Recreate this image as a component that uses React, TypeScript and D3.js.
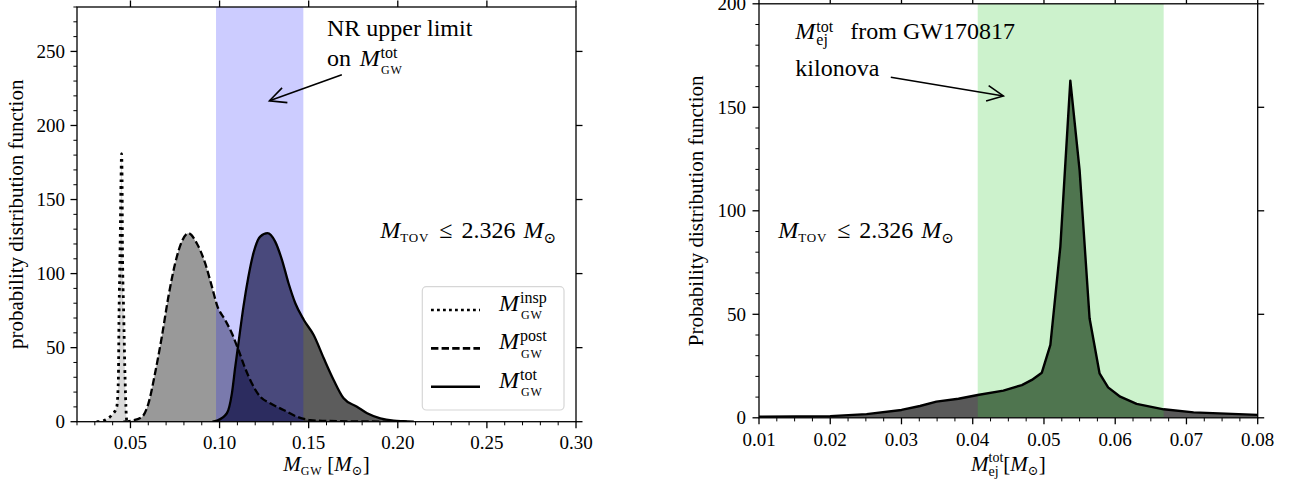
import React from 'react';
import * as d3 from 'd3';

// ---------- data ----------
const inspX = [0.031, 0.034, 0.0357, 0.0395, 0.0423, 0.0432, 0.0436, 0.0442, 0.0447, 0.0450, 0.0453, 0.0455, 0.0462, 0.0470, 0.0479, 0.0485];
const inspY = [0, 0.3, 1.1, 4.5, 10, 28, 73, 118, 163, 181, 163, 118, 73, 28, 1, 0];

const postX = [0.046, 0.0507, 0.0563, 0.0601, 0.0638, 0.0676, 0.0713, 0.0751, 0.0788, 0.0825, 0.0872, 0.0919, 0.0957, 0.0985, 0.1031, 0.1069, 0.1106, 0.1144, 0.1181, 0.1228, 0.1284, 0.1359, 0.1434, 0.1509, 0.1603, 0.18, 0.205];
const postY = [0, 0.7, 3, 12.4, 32.7, 57.4, 84.5, 107, 121.6, 127.3, 120.5, 107, 91.2, 78.9, 68.7, 59.7, 48.4, 36, 25.9, 16.9, 12.4, 7.9, 3.4, 1.1, 0.5, 0.2, 0];

const totX = [0.096, 0.0985, 0.1041, 0.1069, 0.1088, 0.1106, 0.1134, 0.1162, 0.119, 0.1228, 0.1269, 0.1312, 0.135, 0.1387, 0.1425, 0.1473, 0.1528, 0.1584, 0.164, 0.1696, 0.1771, 0.1828, 0.1902, 0.1977, 0.203, 0.209];
const totY = [0, 0.7, 5.7, 19, 37, 53, 77.7, 98, 113.8, 125, 127.3, 121.6, 109.3, 93.5, 80, 68.7, 58.5, 43, 28.2, 15.8, 10.1, 5.7, 2.3, 0.7, 0.3, 0];

const ejX = [0.010, 0.020, 0.0251, 0.030, 0.0326, 0.0349, 0.0380, 0.0407, 0.0443, 0.0469, 0.0483, 0.0497, 0.0509, 0.0523, 0.0537, 0.0550, 0.0564, 0.0578, 0.0590, 0.0607, 0.0630, 0.0668, 0.0710, 0.080];
const ejY = [0.5, 0.8, 1.8, 3.8, 5.7, 7.8, 9.2, 11.0, 13.1, 15.8, 18.3, 21.8, 35.2, 82.7, 162.9, 119.7, 48.1, 21.5, 14.7, 10.2, 6.7, 4.1, 2.6, 1.4];

const leftXTicks = [0.05, 0.10, 0.15, 0.20, 0.25, 0.30];
const leftXLabels = ['0.05', '0.10', '0.15', '0.20', '0.25', '0.30'];
const leftYTicks = [0, 50, 100, 150, 200, 250];
const rightXTicks = [0.01, 0.02, 0.03, 0.04, 0.05, 0.06, 0.07, 0.08];
const rightXLabels = ['0.01', '0.02', '0.03', '0.04', '0.05', '0.06', '0.07', '0.08'];
const rightYTicks = [0, 50, 100, 150, 200];

const nrBand = [0.098, 0.147];
const kiloBand = [0.0407, 0.0668];

const FONT = '"Liberation Serif", "DejaVu Serif", "Times New Roman", Times, serif';
const SYM = '"DejaVu Serif", "DejaVu Sans", serif';

function zip(xs: number[], ys: number[]) {
  return xs.map((x, i) => [x, ys[i]] as [number, number]);
}

function arrowHead(x1: number, y1: number, x2: number, y2: number, len = 18, ang = 0.45) {
  const a = Math.atan2(y1 - y2, x1 - x2);
  return `M${x2 + len * Math.cos(a + ang)},${y2 + len * Math.sin(a + ang)}L${x2},${y2}L${x2 + len * Math.cos(a - ang)},${y2 + len * Math.sin(a - ang)}`;
}

const T = (props: any) => <text {...props} style={{ fontFamily: FONT, ...(props.style || {}) }} />;

export default function App() {
  const L = { x0: 77, x1: 576, y0: 421.7, y1: 7 };
  const R = { x0: 759, x1: 1257.7, y0: 417.8, y1: 3.8 };
  const xL = d3.scaleLinear().domain([0.02, 0.30]).range([L.x0, L.x1]);
  const yL = d3.scaleLinear().domain([0, 280]).range([L.y0, L.y1]);
  const xR = d3.scaleLinear().domain([0.01, 0.08]).range([R.x0, R.x1]);
  const yR = d3.scaleLinear().domain([0, 200]).range([R.y0, R.y1]);

  const areaL = d3.area<[number, number]>().x(d => xL(d[0])).y0(yL(0)).y1(d => yL(d[1])).curve(d3.curveMonotoneX);
  const lineL = d3.line<[number, number]>().x(d => xL(d[0])).y(d => yL(d[1])).curve(d3.curveMonotoneX);
  const areaR = d3.area<[number, number]>().x(d => xR(d[0])).y0(yR(0)).y1(d => yR(d[1])).curve(d3.curveLinear);
  const lineR = d3.line<[number, number]>().x(d => xR(d[0])).y(d => yR(d[1])).curve(d3.curveLinear);

  const insp = zip(inspX, inspY);
  const post = zip(postX, postY);
  const tot = zip(totX, totY);
  const ej = zip(ejX, ejY);

  const minorLX = d3.range(0.02, 0.3001, 0.01).filter(v => Math.abs(v * 20 - Math.round(v * 20)) > 1e-6);
  const minorLY = d3.range(0, 281, 10).filter(v => v % 50 !== 0);
  const minorRX = d3.range(0.01, 0.08001, 0.0025).filter(v => Math.abs(v * 100 - Math.round(v * 100)) > 1e-6);
  const minorRY = d3.range(0, 201, 10).filter(v => v % 50 !== 0);

  const MAJ = 6.5, MIN = 3.6;
  const tickFs = 19;

  const nrTip = [xL(0.128), yL(216.7)];
  const nrStart = [xL(0.1686), yL(234.3)];
  const nrText = [xL(0.1603), yL(260.1)];
  const tovL = [xL(0.1902), yL(124)];
  const kTip = [xR(0.0443), yR(155.5)];
  const kStart = [xR(0.0285), yR(164.5)];
  const kText = [xR(0.0151), yR(165)];
  const ejText = [xR(0.0151), yR(182.9)];
  const tovR = [xR(0.0127), yR(86.8)];

  const TovLabel = ({ x, y }: { x: number; y: number }) => (
    <T x={x} y={y} fontSize={24}>
      <tspan fontStyle="italic">M</tspan>
      <tspan fontSize={13} dy={4} letterSpacing={0.8}>TOV</tspan>
      <tspan dy={-4} dx={10}>≤</tspan>
      <tspan dx={9}>2.326</tspan>
      <tspan dx={8} fontStyle="italic">M</tspan>
      <tspan fontSize={15} dy={5} style={{ fontFamily: SYM }}>⊙</tspan>
    </T>
  );

  const legendRows = [
    { sup: 'insp', dash: '2.8 3.2' },
    { sup: 'post', dash: '7.4 3.2' },
    { sup: 'tot', dash: '' },
  ];

  return (
    <svg width={1291} height={484} style={{ position: 'fixed', left: 0, top: 0, background: '#fff' }}>
      <defs>
        <clipPath id="clipL"><rect x={L.x0} y={L.y1} width={L.x1 - L.x0} height={L.y0 - L.y1} /></clipPath>
        <clipPath id="clipR"><rect x={R.x0} y={R.y1} width={R.x1 - R.x0} height={R.y0 - R.y1} /></clipPath>
      </defs>

      {/* ---------------- LEFT PANEL ---------------- */}
      <g clipPath="url(#clipL)">
        <path d={areaL(insp) || ''} fill="#000" fillOpacity={0.15} />
        <path d={areaL(post) || ''} fill="#000" fillOpacity={0.4} />
        <path d={areaL(tot) || ''} fill="#000" fillOpacity={0.64} />
        <rect x={xL(nrBand[0])} y={L.y1} width={xL(nrBand[1]) - xL(nrBand[0])} height={L.y0 - L.y1} fill="#0000ff" fillOpacity={0.2} />
        <path d={lineL(insp) || ''} fill="none" stroke="#000" strokeWidth={2.8} strokeDasharray="2.8 4" />
        <path d={lineL(post) || ''} fill="none" stroke="#000" strokeWidth={2.3} strokeDasharray="7.4 3.2" />
        <path d={lineL(tot) || ''} fill="none" stroke="#000" strokeWidth={2.3} />
      </g>
      <rect x={L.x0} y={L.y1} width={L.x1 - L.x0} height={L.y0 - L.y1} fill="none" stroke="#000" strokeWidth={1.3} />
      {leftXTicks.map((t, i) => (
        <g key={'lx' + i}>
          <line x1={xL(t)} x2={xL(t)} y1={L.y0} y2={L.y0 + MAJ} stroke="#000" strokeWidth={1.3} />
          <line x1={xL(t)} x2={xL(t)} y1={L.y1} y2={L.y1 - MAJ} stroke="#000" strokeWidth={1.3} />
          <T x={xL(t)} y={L.y0 + 27} fontSize={tickFs} textAnchor="middle">{leftXLabels[i]}</T>
        </g>
      ))}
      {minorLX.map((t, i) => (
        <line key={'lmx' + i} x1={xL(t)} x2={xL(t)} y1={L.y0} y2={L.y0 + MIN} stroke="#000" strokeWidth={1} />
      ))}
      {leftYTicks.map((t, i) => (
        <g key={'ly' + i}>
          <line x1={L.x0 - MAJ} x2={L.x0} y1={yL(t)} y2={yL(t)} stroke="#000" strokeWidth={1.3} />
          <line x1={L.x1} x2={L.x1 + MAJ} y1={yL(t)} y2={yL(t)} stroke="#000" strokeWidth={1.3} />
          <T x={L.x0 - 12} y={yL(t) + 6.5} fontSize={tickFs} textAnchor="end">{String(t)}</T>
        </g>
      ))}
      {minorLY.map((t, i) => (
        <line key={'lmy' + i} x1={L.x0 - MIN} x2={L.x0} y1={yL(t)} y2={yL(t)} stroke="#000" strokeWidth={1} />
      ))}
      <T transform={`translate(23,${(L.y0 + L.y1) / 2}) rotate(-90)`} fontSize={21} textAnchor="middle">probability distribution function</T>
      <T x={(L.x0 + L.x1) / 2} y={471} fontSize={21} textAnchor="middle">
        <tspan fontStyle="italic">M</tspan>
        <tspan fontSize={12} dy={4} letterSpacing={0.8}>GW</tspan>
        <tspan dy={-4} dx={5}>[</tspan>
        <tspan fontStyle="italic">M</tspan>
        <tspan fontSize={13} dy={4} style={{ fontFamily: SYM }}>⊙</tspan>
        <tspan dy={-4}>]</tspan>
      </T>

      {/* NR annotation */}
      <T x={nrText[0]} y={nrText[1]} fontSize={24}>NR upper limit</T>
      <T x={nrText[0]} y={nrText[1] + 30} fontSize={24}>on</T>
      <T x={nrText[0] + 32.6} y={nrText[1] + 30} fontSize={24} fontStyle="italic">M</T>
      <T x={nrText[0] + 53.5} y={nrText[1] + 21.3} fontSize={16}>tot</T>
      <T x={nrText[0] + 54} y={nrText[1] + 37.3} fontSize={12} letterSpacing={0.8}>GW</T>
      <line x1={nrStart[0]} y1={nrStart[1]} x2={nrTip[0]} y2={nrTip[1]} stroke="#000" strokeWidth={1.6} />
      <path d={arrowHead(nrStart[0], nrStart[1], nrTip[0], nrTip[1])} fill="none" stroke="#000" strokeWidth={1.6} />

      <TovLabel x={tovL[0]} y={tovL[1]} />

      {/* legend */}
      <rect x={422.3} y={286.7} width={141.7} height={123.3} rx={4} fill="#fff" fillOpacity={0.8} stroke="#d6d6d6" strokeWidth={1.2} />
      {legendRows.map((r, i) => {
        const by = 310.7 + i * 38.4;
        return (
          <g key={'lg' + i}>
            <line x1={431} x2={480} y1={by - 0.7} y2={by - 0.7} stroke="#000" strokeWidth={2.6} strokeDasharray={r.dash || undefined} />
            <T x={499} y={by} fontSize={24} fontStyle="italic">M</T>
            <T x={520} y={by - 8} fontSize={16}>{r.sup}</T>
            <T x={521} y={by + 8.6} fontSize={12} letterSpacing={0.8}>GW</T>
          </g>
        );
      })}

      {/* ---------------- RIGHT PANEL ---------------- */}
      <g clipPath="url(#clipR)">
        <path d={areaR(ej) || ''} fill="#000" fillOpacity={0.65} />
        <rect x={xR(kiloBand[0])} y={R.y1} width={xR(kiloBand[1]) - xR(kiloBand[0])} height={R.y0 - R.y1} fill="#32cd32" fillOpacity={0.25} />
        <path d={lineR(ej) || ''} fill="none" stroke="#000" strokeWidth={2.4} strokeLinejoin="round" />
      </g>
      <rect x={R.x0} y={R.y1} width={R.x1 - R.x0} height={R.y0 - R.y1} fill="none" stroke="#000" strokeWidth={1.3} />
      {rightXTicks.map((t, i) => (
        <g key={'rx' + i}>
          <line x1={xR(t)} x2={xR(t)} y1={R.y0} y2={R.y0 + MAJ} stroke="#000" strokeWidth={1.3} />
          <line x1={xR(t)} x2={xR(t)} y1={R.y1} y2={R.y1 - MAJ} stroke="#000" strokeWidth={1.3} />
          <T x={xR(t)} y={R.y0 + 28} fontSize={tickFs} textAnchor="middle">{rightXLabels[i]}</T>
        </g>
      ))}
      {minorRX.map((t, i) => (
        <line key={'rmx' + i} x1={xR(t)} x2={xR(t)} y1={R.y0} y2={R.y0 + MIN} stroke="#000" strokeWidth={1} />
      ))}
      {rightYTicks.map((t, i) => (
        <g key={'ry' + i}>
          <line x1={R.x0 - MAJ} x2={R.x0} y1={yR(t)} y2={yR(t)} stroke="#000" strokeWidth={1.3} />
          <line x1={R.x1} x2={R.x1 + MAJ} y1={yR(t)} y2={yR(t)} stroke="#000" strokeWidth={1.3} />
          <T x={R.x0 - 13} y={yR(t) + 6.5} fontSize={tickFs} textAnchor="end">{String(t)}</T>
        </g>
      ))}
      {minorRY.map((t, i) => (
        <line key={'rmy' + i} x1={R.x0 - MIN} x2={R.x0} y1={yR(t)} y2={yR(t)} stroke="#000" strokeWidth={1} />
      ))}
      <T transform={`translate(703,${(R.y0 + R.y1) / 2}) rotate(-90)`} fontSize={21} textAnchor="middle">Probability distribution function</T>
      <T x={(R.x0 + R.x1) / 2} y={471} fontSize={21} textAnchor="middle">
        <tspan fontStyle="italic">M</tspan>
        <tspan fontSize={14} dy={-9}>tot</tspan>
        <tspan fontSize={14} dx={-14.8} dy={14}>ej</tspan>
        <tspan dx={4.7} dy={-5}>[</tspan>
        <tspan fontStyle="italic">M</tspan>
        <tspan fontSize={13} dy={4} style={{ fontFamily: SYM }}>⊙</tspan>
        <tspan dy={-4}>]</tspan>
      </T>

      {/* kilonova annotation */}
      <T x={ejText[0]} y={ejText[1]} fontSize={24} fontStyle="italic">M</T>
      <T x={ejText[0] + 21} y={ejText[1] - 7.6} fontSize={16}>tot</T>
      <T x={ejText[0] + 21} y={ejText[1] + 5.7} fontSize={16}>ej</T>
      <T x={ejText[0] + 55} y={ejText[1]} fontSize={24}>from GW170817</T>
      <T x={kText[0]} y={kText[1]} fontSize={24}>kilonova</T>
      <line x1={kStart[0]} y1={kStart[1]} x2={kTip[0]} y2={kTip[1]} stroke="#000" strokeWidth={1.6} />
      <path d={arrowHead(kStart[0], kStart[1], kTip[0], kTip[1])} fill="none" stroke="#000" strokeWidth={1.6} />

      <TovLabel x={tovR[0]} y={tovR[1]} />
    </svg>
  );
}
